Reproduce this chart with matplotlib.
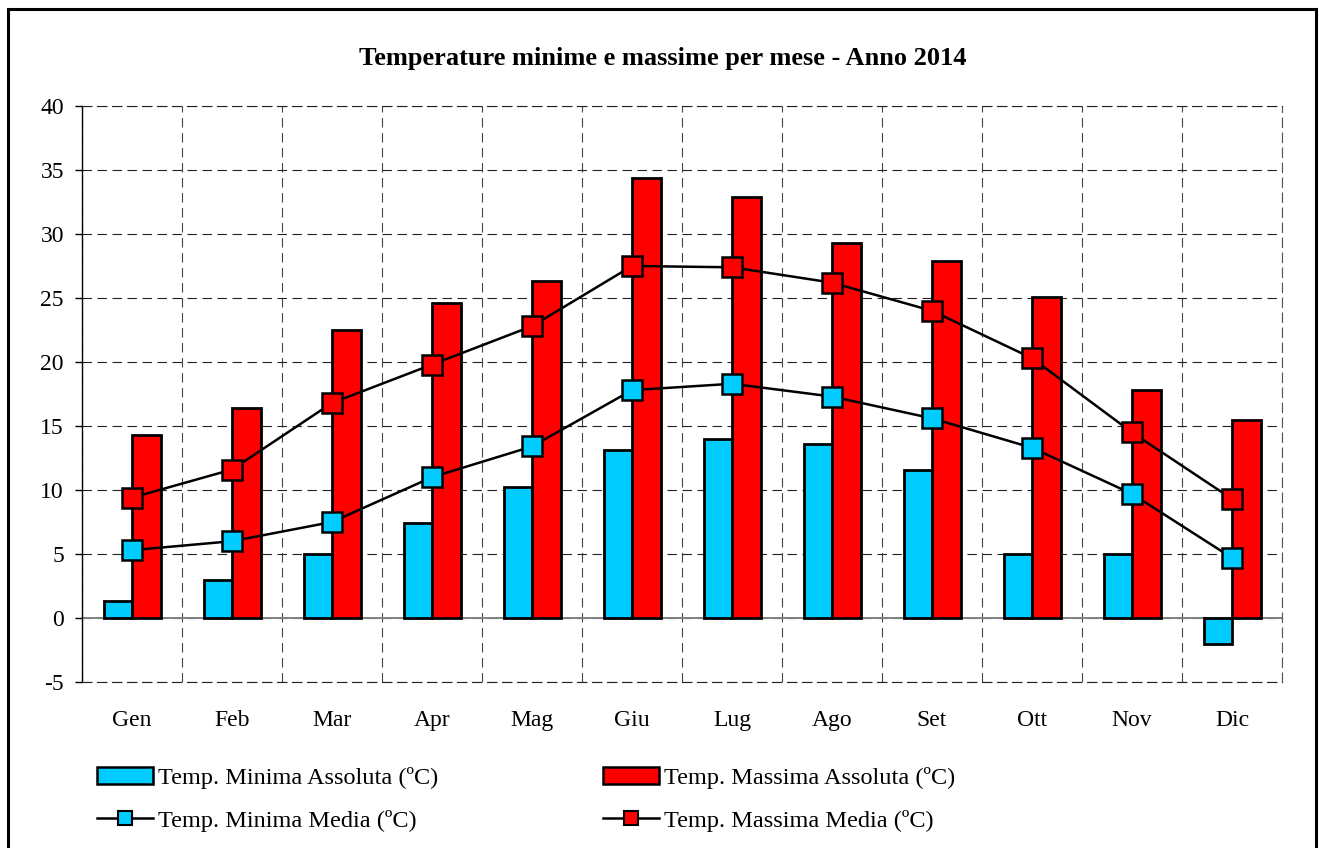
import matplotlib.pyplot as plt
import numpy as np
from matplotlib.lines import Line2D
from matplotlib.patches import Patch, Rectangle

# dati
mesi = ['Gen', 'Feb', 'Mar', 'Apr', 'Mag', 'Giu', 'Lug', 'Ago', 'Set', 'Ott', 'Nov', 'Dic']
min_assoluta = [1.3, 3.0, 5.0, 7.4, 10.2, 13.1, 14.0, 13.6, 11.6, 5.0, 5.0, -2.0]
max_assoluta = [14.3, 16.4, 22.5, 24.6, 26.3, 34.4, 32.9, 29.3, 27.9, 25.1, 17.8, 15.5]
min_media = [5.3, 6.0, 7.5, 11.0, 13.4, 17.8, 18.3, 17.3, 15.6, 13.3, 9.7, 4.7]
max_media = [9.4, 11.6, 16.8, 19.8, 22.8, 27.5, 27.4, 26.2, 24.0, 20.3, 14.5, 9.3]

ciano = '#00CCFF'
rosso = '#FF0000'

plt.rcParams['font.family'] = ['Liberation Serif', 'DejaVu Serif']
plt.rcParams['axes.unicode_minus'] = False

fig = plt.figure(figsize=(13.19, 8.48), dpi=100)
ax = fig.add_axes([82/1319, 1-682/848, 1200/1319, 576/848])

x = np.arange(len(mesi))
w = 0.285
ax.bar(x, min_assoluta, width=-w, align='edge', color=ciano, edgecolor='black', linewidth=2.0, zorder=3)
ax.bar(x, max_assoluta, width=w, align='edge', color=rosso, edgecolor='black', linewidth=2.0, zorder=3)
ax.plot(x, min_media, color='black', lw=1.8, marker='s', markersize=15,
        markerfacecolor=ciano, markeredgecolor='black', markeredgewidth=1.8, zorder=4)
ax.plot(x, max_media, color='black', lw=1.8, marker='s', markersize=15,
        markerfacecolor=rosso, markeredgecolor='black', markeredgewidth=1.8, zorder=4)

ax.set_xlim(-0.5, 11.5)
ax.set_ylim(-5, 40)
ax.set_yticks(np.arange(-5, 41, 5))
ax.set_xticks(x)
ax.set_xticklabels(mesi)
ax.set_xticks(np.arange(-0.5, 12, 1), minor=True)

dash = (0, (8.5, 5))
ax.grid(axis='y', which='major', color='#222222', lw=0.8, linestyle=dash, zorder=0)
ax.grid(axis='x', which='minor', color='#444444', lw=0.8, linestyle=dash, zorder=0)
ax.axhline(0, color='#808080', lw=1.4, zorder=2)

# bordi dell'area del grafico tratteggiati, tranne l'asse y
for s in ['top', 'bottom']:
    ax.spines[s].set_linestyle(dash)
    ax.spines[s].set_linewidth(0.8)
    ax.spines[s].set_edgecolor('#222222')
ax.spines['right'].set_linestyle(dash)
ax.spines['right'].set_linewidth(0.8)
ax.spines['right'].set_edgecolor('#555555')
ax.spines['left'].set_linewidth(1.0)
ax.tick_params(axis='y', length=5, width=1, pad=8, labelsize=17)
ax.tick_params(axis='x', which='both', length=0, pad=20.5, labelsize=17)

fig.text(663/1319, 1-59/848, 'Temperature minime e massime per mese - Anno 2014',
         ha='center', va='center', fontsize=19, fontweight='bold')

# legenda su due colonne
h1 = [Patch(facecolor=ciano, edgecolor='black', linewidth=1.8),
      Line2D([], [], color='black', lw=1.8, marker='s', markersize=10,
             markerfacecolor=ciano, markeredgecolor='black', markeredgewidth=1.5)]
h2 = [Patch(facecolor=rosso, edgecolor='black', linewidth=1.8),
      Line2D([], [], color='black', lw=1.8, marker='s', markersize=10,
             markerfacecolor=rosso, markeredgecolor='black', markeredgewidth=1.5)]
opts = dict(loc='upper left', frameon=False, fontsize=17.5, handlelength=2.3,
            handletextpad=0.2, labelspacing=0.85, borderpad=0, borderaxespad=0)
fig.legend(h1, ['Temp. Minima Assoluta (ºC)', 'Temp. Minima Media (ºC)'],
           bbox_to_anchor=(97/1319, 1-767/848), **opts)
fig.legend(h2, ['Temp. Massima Assoluta (ºC)', 'Temp. Massima Media (ºC)'],
           bbox_to_anchor=(603/1319, 1-767/848), **opts)

# cornice esterna
fig.patches.append(Rectangle((8/1319, -0.05), 1308/1319, 1.05-9/848, transform=fig.transFigure,
                             fill=False, edgecolor='black', linewidth=2.2))

fig.savefig('out.png', dpi=100)
